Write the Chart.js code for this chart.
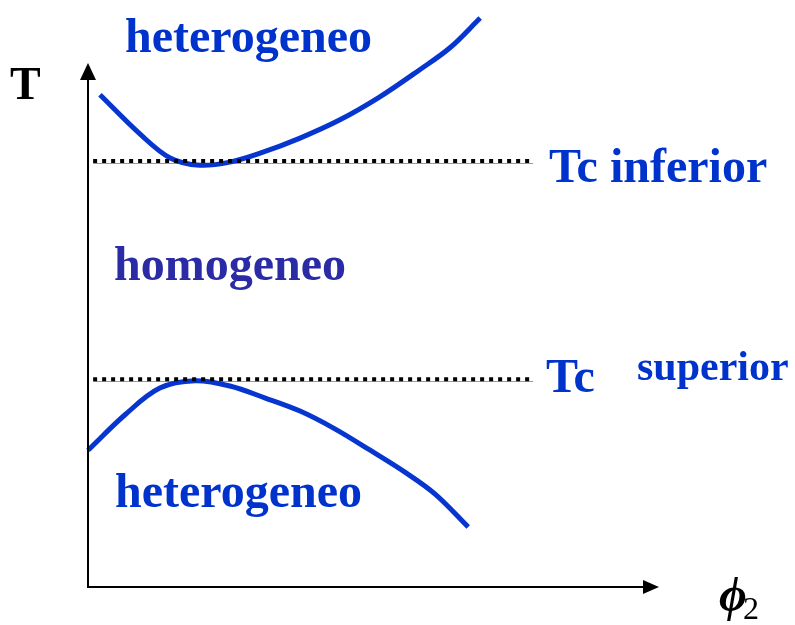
<!DOCTYPE html>
<html>
<head>
<meta charset="utf-8">
<script src="https://cdn.jsdelivr.net/npm/chart.js@4/dist/chart.umd.min.js"></script>
<style>
  html, body { margin: 0; padding: 0; background: #fff; }
  #wrap { width: 795px; height: 625px; }
</style>
</head>
<body>
<div id="wrap"><canvas id="c" width="795" height="625"></canvas></div>
<script>
// phase diagram: T vs phi2 (arbitrary units, origin at axis corner)

// upper branch (Tc inferior) — heterogeneous above
var upperPhi = [0.021, 0.091, 0.144, 0.196, 0.249, 0.302, 0.372, 0.442, 0.512, 0.582, 0.635, 0.688];
var upperT   = [0.943, 0.868, 0.822, 0.808, 0.814, 0.831, 0.860, 0.895, 0.939, 0.991, 1.033, 1.090];

// lower branch (Tc superior) — heterogeneous below
var lowerPhi = [0.000, 0.065, 0.126, 0.188, 0.249, 0.311, 0.372, 0.433, 0.495, 0.556, 0.609, 0.667];
var lowerT   = [0.262, 0.330, 0.381, 0.395, 0.385, 0.362, 0.337, 0.303, 0.262, 0.220, 0.178, 0.115];

// critical temperatures (dotted reference lines)
var tcLower = 0.816;   // "Tc inferior"
var tcUpper = 0.398;   // "Tc superior"
var tcRange = [0.009, 0.781];

var BLUE = '#0636cf';
var TEXT_BLUE = '#0033cc';

function toPoints(xs, ys) {
    var out = [];
    for (var i = 0; i < xs.length; i++) out.push({ x: xs[i], y: ys[i] });
    return out;
}

function hLine(y) {
    return [{ x: tcRange[0], y: y }, { x: tcRange[1], y: y }];
}

function dotted(y) {
    return {
        data: hLine(y),
        showLine: true,
        borderColor: '#000',
        borderWidth: 4,
        borderDash: [4, 5],
        borderCapStyle: 'butt',
        pointRadius: 0,
        clip: false
    };
}

function curve(xs, ys) {
    return {
        data: toPoints(xs, ys),
        showLine: true,
        borderColor: BLUE,
        borderWidth: 5,
        tension: 0.35,
        pointRadius: 0,
        clip: false
    };
}

// axes with arrowheads + all the labels
var diagramPlugin = {
    id: 'diagram',
    beforeDatasetsDraw: function (chart) {
        // faint grey rule under the dotted lines
        var ctx = chart.ctx;
        var xs = chart.scales.x, ys = chart.scales.y;
        ctx.save();
        ctx.strokeStyle = '#9a9a9a';
        ctx.lineWidth = 1;
        [tcLower, tcUpper].forEach(function (v) {
            var py = Math.round(ys.getPixelForValue(v)) + 2.5;
            ctx.beginPath();
            ctx.moveTo(xs.getPixelForValue(tcRange[0]), py);
            ctx.lineTo(xs.getPixelForValue(tcRange[1]), py);
            ctx.stroke();
        });
        ctx.restore();
    },
    afterDatasetsDraw: function (chart) {
        var ctx = chart.ctx;
        var a = chart.chartArea;
        ctx.save();

        // axes
        ctx.strokeStyle = '#000';
        ctx.fillStyle = '#000';
        ctx.lineWidth = 2;
        ctx.beginPath();
        ctx.moveTo(a.left, a.top + 10);
        ctx.lineTo(a.left, a.bottom);
        ctx.lineTo(a.right - 10, a.bottom);
        ctx.stroke();

        // y arrow
        ctx.beginPath();
        ctx.moveTo(a.left, a.top - 2);
        ctx.lineTo(a.left - 8, a.top + 15);
        ctx.lineTo(a.left + 8, a.top + 15);
        ctx.closePath();
        ctx.fill();

        // x arrow
        ctx.beginPath();
        ctx.moveTo(a.right + 1, a.bottom);
        ctx.lineTo(a.right - 15, a.bottom - 7);
        ctx.lineTo(a.right - 15, a.bottom + 7);
        ctx.closePath();
        ctx.fill();

        ctx.textBaseline = 'alphabetic';
        ctx.textAlign = 'left';

        // axis titles
        ctx.fillStyle = '#000';
        ctx.font = 'bold 46px "Liberation Serif", "Times New Roman", serif';
        ctx.fillText('T', 10, 99);

        ctx.font = 'italic bold 48px "Liberation Serif", "DejaVu Serif", serif';
        ctx.fillText('\u03D5', 719, 611);
        ctx.font = '32px "Liberation Serif", serif';
        ctx.fillText('2', 743, 619);

        // region labels
        ctx.font = 'bold 48px "Liberation Serif", "Times New Roman", serif';
        ctx.fillStyle = TEXT_BLUE;
        ctx.fillText('heterogeneo', 125, 52);
        ctx.fillText('heterogeneo', 115, 507);
        ctx.fillText('Tc inferior', 549, 182);
        ctx.fillText('Tc', 546, 392);

        ctx.fillStyle = '#2b2ba6';
        ctx.fillText('homogeneo', 114, 280);

        ctx.fillStyle = TEXT_BLUE;
        ctx.font = 'bold 42px "Liberation Serif", "Times New Roman", serif';
        ctx.fillText('superior', 637, 380);

        ctx.restore();
    }
};

new Chart(document.getElementById('c'), {
    type: 'scatter',
    data: {
        datasets: [
            dotted(tcLower),
            dotted(tcUpper),
            curve(upperPhi, upperT),
            curve(lowerPhi, lowerT)
        ]
    },
    options: {
        responsive: false,
        animation: false,
        devicePixelRatio: 1,
        layout: { padding: { left: 88, right: 137, top: 65, bottom: 38 } },
        plugins: { legend: { display: false }, tooltip: { enabled: false } },
        scales: {
            x: { type: 'linear', min: 0, max: 1, display: false },
            y: { type: 'linear', min: 0, max: 1, display: false }
        }
    },
    plugins: [diagramPlugin]
});
</script>
</body>
</html>
